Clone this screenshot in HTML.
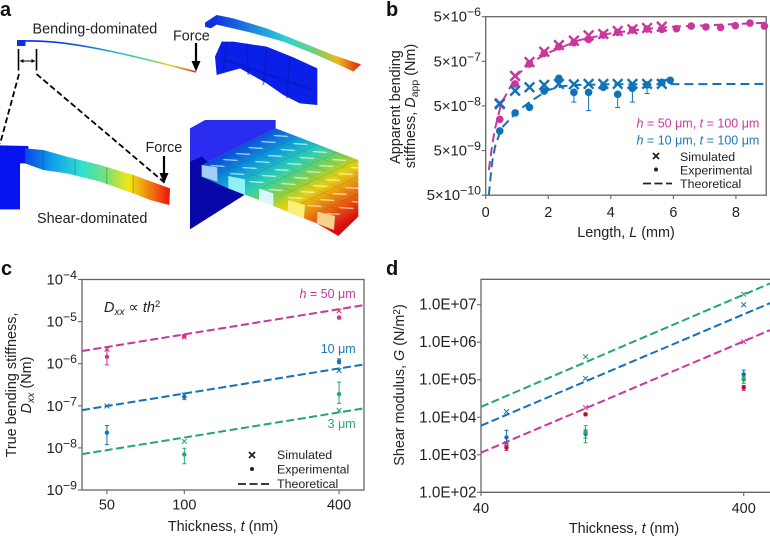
<!DOCTYPE html>
<html>
<head>
<meta charset="utf-8">
<style>
html,body{margin:0;padding:0;background:#fff;}
svg{display:block;font-family:"Liberation Sans",sans-serif;fill:#222;filter:blur(0.3px);}
text{font-size:14.4px;}
text.leg{font-size:12.4px;}
text.ser{font-size:12.5px;}
.letter{font-size:20px;font-weight:bold;fill:#111;}
.tick{stroke:#666;stroke-width:1.1;}
.frame{fill:none;stroke:#666;stroke-width:1.3;}
</style>
</head>
<body>
<svg id="fig" xmlns="http://www.w3.org/2000/svg" width="770" height="537" viewBox="0 0 770 537">
<defs>
<linearGradient id="rainbowThin" gradientUnits="userSpaceOnUse" x1="25" y1="0" x2="196" y2="0">
<stop offset="0" stop-color="#0a20e0"/><stop offset=".35" stop-color="#1060e0"/><stop offset=".55" stop-color="#20c0d0"/><stop offset=".72" stop-color="#60d080"/><stop offset=".85" stop-color="#e8d820"/><stop offset="1" stop-color="#e82010"/>
</linearGradient>
<linearGradient id="rainbowTop" gradientUnits="userSpaceOnUse" x1="640" y1="0" x2="1080" y2="0">
<stop offset="0" stop-color="#1030e0"/><stop offset=".3" stop-color="#2090e0"/><stop offset=".5" stop-color="#30d0d0"/><stop offset=".68" stop-color="#70d080"/><stop offset=".85" stop-color="#e8b820"/><stop offset="1" stop-color="#e02810"/>
</linearGradient>
<linearGradient id="rainbowShear" gradientUnits="userSpaceOnUse" x1="70" y1="0" x2="510" y2="0">
<stop offset="0" stop-color="#0a40e8"/><stop offset=".2" stop-color="#10a0e8"/><stop offset=".4" stop-color="#30e0d0"/><stop offset=".55" stop-color="#70e080"/><stop offset=".72" stop-color="#f0e810"/><stop offset=".88" stop-color="#f07010"/><stop offset="1" stop-color="#f01010"/>
</linearGradient>
<linearGradient id="rainbowPlate" gradientUnits="userSpaceOnUse" x1="700" y1="420" x2="897" y2="755">
<stop offset="0" stop-color="#0a30d8"/><stop offset=".25" stop-color="#10a0d8"/><stop offset=".4" stop-color="#30d0b0"/><stop offset=".55" stop-color="#90d040"/><stop offset=".65" stop-color="#e8d010"/><stop offset=".85" stop-color="#e86010"/><stop offset="1" stop-color="#d80c10"/>
</linearGradient>
<pattern id="cellPattern" patternUnits="userSpaceOnUse" width="20" height="20" patternTransform="matrix(2.9 1.2 -1.9 0.9 605 495)">
<path d="M6.5 13.5L13.5 6.5" stroke="#ffffff" stroke-opacity=".6" stroke-width="3" stroke-linecap="round" fill="none"/>
<path d="M0 20L20 20M20 0L20 20" stroke="#003050" stroke-opacity=".3" stroke-width="1" fill="none"/>
</pattern>
</defs>

<!-- PANEL A -->
<g id="panel-a">
<text class="letter" x="0" y="16">a</text>
<rect x="17" y="40" width="8.5" height="6" fill="#1030e0"/>
<path d="M25 41 C60 40 105 48 196 72" fill="none" stroke="url(#rainbowThin)" stroke-width="1.6"/>
<text x="32.5" y="33.5">Bending-dominated</text>
<text x="173" y="40.5">Force</text>
<path d="M196 43V63" stroke="#000" stroke-width="2.2"/>
<path d="M191.5 61L196 71.5L200.5 61Z" fill="#000"/>
<g stroke="#000" fill="none">
<path d="M18.5 49V70.5M36.5 49V70.5" stroke-width="1.6"/>
<path d="M20 61H35" stroke-width="1"/>
<path d="M20 61l3.5-2v4zM35 61l-3.5-2v4z" fill="#000" stroke="none"/>
</g>
<path d="M19 74L0 144" stroke="#000" stroke-width="1.8" stroke-dasharray="6 3" fill="none"/>
<path d="M36.5 74L165 183" stroke="#000" stroke-width="1.8" stroke-dasharray="6 3" fill="none"/>

<g transform="scale(0.33333)">
<polygon points="615,68 650,45 700,55 800,85 900,125 1000,165 1083,193 1060,215 1040,205 950,165 850,125 750,97 650,74 632,85 615,80" fill="url(#rainbowTop)"/>
<polygon points="645,170 665,125 700,125 800,140 880,172 952,205 952,315 900,310 850,285 800,250 720,205 650,225" fill="#0a20e8"/>
<path d="M680 130L670 215M740 130L745 225M800 150L790 255M870 175L860 295M660 175L940 270" stroke="#0a10b0" stroke-width="5" fill="none" opacity=".5"/>

<polygon points="0,436 85,438 85,490 60,490 60,628 0,628" fill="#0814f0"/>
<polygon points="75,445 130,450 200,470 300,495 400,525 510,565 508,615 450,600 400,580 300,545 200,520 130,510 75,490" fill="url(#rainbowShear)"/>
<path d="M130 450V510M225 478V525M320 502V552M400 525V580" stroke="#004060" stroke-opacity=".25" stroke-width="4" fill="none"/>

<polygon points="570,385 615,360 827,360 827,385 605,495 570,490" fill="#2a2cf0"/>
<polygon points="570,485 605,470 733,585 570,688" fill="#0808a8"/>
<polygon points="605,495 827,385 1075,480 1075,650 1015,708 950,670 862,635 777,600 685,565 605,530" fill="url(#rainbowPlate)"/>
<polygon points="605,495 827,385 1075,480 1075,625 1005,648 953,635 865,600 777,565 685,528" fill="url(#cellPattern)"/>
<polygon points="605,495 652,502 652,545 605,530" fill="#a0d0f8"/>
<polygon points="685,528 735,538 735,585 685,565" fill="#90f0f8"/>
<polygon points="777,565 820,580 820,618 777,600" fill="#d8f8ff"/>
<polygon points="865,600 915,615 912,655 862,635" fill="#f8f078"/>
<polygon points="953,635 1005,648 1002,690 950,670" fill="#f8d090"/>
</g>
<text x="145.5" y="152">Force</text>
<path d="M164 156V175" stroke="#000" stroke-width="2.2"/>
<path d="M159.5 173L164 183.5L168.5 173Z" fill="#000"/>
<text x="37" y="223">Shear-dominated</text>
</g>

<!-- PANEL B -->
<g id="panel-b">
<text class="letter" x="386" y="16">b</text>
<rect class="frame" x="485.7" y="16.7" width="280.5" height="178.5"/>
<g id="b-axes"></g>
<g id="b-marks"></g>
<text x="400" y="107" text-anchor="middle" transform="rotate(-90 400 107)">Apparent bending</text>
<text x="415" y="106" text-anchor="middle" transform="rotate(-90 415 106)">stiffness, <tspan font-style="italic">D</tspan><tspan dy="3" style="font-size:10.5px">app</tspan><tspan dy="-3"> (Nm)</tspan></text>
<text x="626" y="237" text-anchor="middle">Length, <tspan font-style="italic">L</tspan> (mm)</text>
<text class="ser" x="636.5" y="127.5" style="fill:#c9379d"><tspan font-style="italic">h</tspan> = 50 μm, <tspan font-style="italic">t</tspan> = 100 μm</text>
<text class="ser" x="636.5" y="144.5" style="fill:#1a78b8"><tspan font-style="italic">h</tspan> = 10 μm, <tspan font-style="italic">t</tspan> = 100 μm</text>
<g>
<path d="M653 153l6 6M659 153l-6 6" stroke="#222" stroke-width="1.8" fill="none"/>
<circle cx="656" cy="169.5" r="2" fill="#222"/>
<path d="M643 183.5H672" stroke="#222" stroke-width="1.8" stroke-dasharray="8 3.5"/>
<text class="leg" x="680" y="161">Simulated</text>
<text class="leg" x="680" y="174.5">Experimental</text>
<text class="leg" x="680" y="188">Theoretical</text>
</g>
</g>

<!-- PANEL C -->
<g id="panel-c">
<text class="letter" x="1" y="275">c</text>
<rect class="frame" x="82" y="279.5" width="282" height="210.5"/>
<g id="c-axes"></g>
<g id="c-marks"></g>
<text x="16" y="385" text-anchor="middle" transform="rotate(-90 16 385)">True bending stiffness,</text>
<text x="31" y="385" text-anchor="middle" transform="rotate(-90 31 385)"><tspan font-style="italic">D</tspan><tspan dy="3" style="font-size:10.5px;font-style:italic">xx</tspan><tspan dy="-3"> (Nm)</tspan></text>
<text x="223" y="531" text-anchor="middle">Thickness, <tspan font-style="italic">t</tspan> (nm)</text>
<text x="104" y="312" style="font-size:14.5px"><tspan font-style="italic">D</tspan><tspan dy="3" style="font-size:10px;font-style:italic">xx</tspan><tspan dy="-3"> ∝ </tspan><tspan font-style="italic">th</tspan><tspan dy="-5" style="font-size:9.5px">2</tspan></text>
<text class="ser" x="355.7" y="298" text-anchor="end" style="fill:#c9379d"><tspan font-style="italic">h</tspan> = 50 μm</text>
<text class="ser" x="355.7" y="353" text-anchor="end" style="fill:#1a78b8">10 μm</text>
<text class="ser" x="355.7" y="428" text-anchor="end" style="fill:#2aa86a">3 μm</text>
<g>
<path d="M249 452l6 6M255 452l-6 6" stroke="#222" stroke-width="1.8" fill="none"/>
<circle cx="252" cy="469" r="2" fill="#222"/>
<path d="M238 484H269" stroke="#222" stroke-width="1.8" stroke-dasharray="8 3.5"/>
<text class="leg" x="277" y="459">Simulated</text>
<text class="leg" x="277" y="473.5">Experimental</text>
<text class="leg" x="277" y="488">Theoretical</text>
</g>
</g>

<!-- PANEL D -->
<g id="panel-d">
<text class="letter" x="386" y="275">d</text>
<path class="frame" d="M770 279.3H481V492.3H770"/>
<g id="d-axes"></g>
<g id="d-marks"></g>
<text x="404" y="385" text-anchor="middle" transform="rotate(-90 404 385)">Shear modulus, <tspan font-style="italic">G</tspan> (N/m<tspan dy="-4" style="font-size:10px">2</tspan><tspan dy="4">)</tspan></text>
<text x="624" y="533" text-anchor="middle">Thickness, <tspan font-style="italic">t</tspan> (nm)</text>
</g>
</svg>

<script>
/* ---------- Panel b data ---------- */
var bTickX = [0, 2, 4, 6, 8];
var bTickExp = [-6, -7, -8, -9, -10];
var bLengths = [0.45, 0.94, 1.4, 1.87, 2.34, 2.82, 3.29, 3.76, 4.22, 4.69, 5.16, 5.63, 6.1, 6.57, 7.04, 7.51, 7.98, 8.45, 8.91];
var bMagentaExp = [2.51e-8, 1.56e-7, 4.36e-7, 7.55e-7, 1.06e-6, 1.31e-6, 1.55e-6, 1.94e-6, 2.23e-6, 2.51e-6, 2.65e-6, 2.6e-6, 2.69e-6, 3.09e-6, 2.94e-6, 2.88e-6, 3.14e-6, 3.61e-6, 3.09e-6];
var bMagentaSim = [5.74e-8, 2.35e-7, 4.83e-7, 8.2e-7, 1.16e-6, 1.45e-6, 1.91e-6, 2.05e-6, 2.39e-6, 2.6e-6, 2.79e-6, 2.99e-6];
var bBlueLengths = [0.45, 0.94, 1.4, 1.87, 2.34, 2.82, 3.29, 3.76, 4.22, 4.69, 5.16, 5.63, 5.9];
var bBlueExp = [1.38e-8, 3.48e-8, 4.67e-8, 1.08e-7, 2.08e-7, 1.01e-7, 1.01e-7, 1.31e-7, 9.1e-8, 1.24e-7, 1.48e-7, 1.69e-7, 1.88e-7];
var bBlueLow = [1.38e-8, 3.48e-8, 4.67e-8, 1.08e-7, 2.08e-7, 6.1e-8, 3.93e-8, 1.31e-7, 4.6e-8, 6.1e-8, 9.5e-8, 1.69e-7, 1.88e-7];
var bBlueSim = [5.5e-8, 1.1e-7, 1.31e-7, 1.48e-7, 1.56e-7, 1.53e-7, 1.56e-7, 1.56e-7, 1.56e-7, 1.56e-7, 1.56e-7, 1.56e-7];
var bMagentaTheoryL = [0.1, 0.2, 0.3, 0.5, 1, 1.5, 2, 3, 4, 5, 6, 7, 8, 9];
var bMagentaTheory = [1.84e-9, 6.15e-9, 1.58e-8, 5.74e-8, 2.47e-7, 4.92e-7, 7.8e-7, 1.5e-6, 2.12e-6, 2.6e-6, 3e-6, 3.2e-6, 3.43e-6, 3.67e-6];
var bBlueTheoryL = [0.1, 0.2, 0.3, 0.5, 1, 1.5, 2, 2.5, 3, 4, 5, 9];
var bBlueTheory = [5e-10, 2.6e-9, 6.15e-9, 1.58e-8, 3.73e-8, 6.8e-8, 1.14e-7, 1.4e-7, 1.48e-7, 1.53e-7, 1.53e-7, 1.56e-7];

/* ---------- Panel c data ---------- */
var cTickX = [50, 100, 400];
var cTickExp = [-4, -5, -6, -7, -8, -9];
var cLineT = [40, 500];
var cMagentaLine = [2.0e-6, 2.46e-5];
var cBlueLine = [7.9e-8, 9.6e-7];
var cGreenLine = [7.1e-9, 8.7e-8];
var cMagentaExp = [1.46e-6, 4.5e-6, 1.25e-5];
var cMagentaHigh = [2.1e-6, 4.9e-6, 1.35e-5];
var cMagentaLow = [9.4e-7, 4.1e-6, 1.15e-5];
var cMagentaSim = [2.2e-6, 4.3e-6, 1.8e-5];
var cBlueExp = [2.3e-8, 1.64e-7, 1.13e-6];
var cBlueHigh = [3.4e-8, 2.0e-7, 1.3e-6];
var cBlueLow = [1.2e-8, 1.4e-7, 1.0e-6];
var cBlueSim = [9.9e-8, 1.8e-7, 6.9e-7];
var cGreenT = [100, 400];
var cGreenExp = [7e-9, 1.9e-7];
var cGreenHigh = [9.8e-9, 3.66e-7];
var cGreenLow = [4.2e-9, 1.14e-7];
var cGreenSim = [1.43e-8, 7.8e-8];

/* ---------- Panel d data ---------- */
var dTickX = [40, 400];
var dTickY = [7, 6, 5, 4, 3, 2];
var dTickLabels = ["1.0E+07", "1.0E+06", "1.0E+05", "1.0E+04", "1.0E+03", "1.0E+02"];
var dLineT = [40, 504];
var dGreenLine = [1.9e4, 3.7e7];
var dBlueLine = [5.97e3, 1.1e7];
var dMagentaLine = [1.14e3, 2.1e6];
var dT = [50, 100, 400];
var dBlueSim = [1.41e4, 1.09e5, 1e7];
var dGreenSimT = [100, 400];
var dGreenSim = [4.1e5, 1.9e7];
var dMagentaSim = [2.0e3, 1.8e4, 1.03e6];
var dBlueExp = [2.9e3, 3.6e3, 1.39e5];
var dBlueHigh = [4.5e3, 4.6e3, 1.8e5];
var dBlueLow = [2.0e3, 2.8e3, 1.1e5];
var dGreenExpT = [100, 400];
var dGreenExp = [4e3, 1e5];
var dGreenHigh = [6e3, 1.2e5];
var dGreenLow = [2.1e3, 8e4];
var dRedExp = [1.55e3, 1.2e4, 6.2e4];
var dRedHigh = [1.8e3, 1.3e4, 7e4];
var dRedLow = [1.3e3, 1.1e4, 5.2e4];

var MAGENTA = "#c9379d", BLUE = "#1272b8", GREEN = "#22a868", RED = "#b5121b", PINKRED = "#e0305a";
var NS = "http://www.w3.org/2000/svg";

function shape(parent, tag, attrs) {
  var el = document.createElementNS(NS, tag);
  for (var k in attrs) el.setAttribute(k, attrs[k]);
  parent.appendChild(el);
  return el;
}
function logScale(d0, d1, r0, r1) {
  var a = Math.log10(d0), b = Math.log10(d1);
  return function (v) { return r0 + (Math.log10(v) - a) / (b - a) * (r1 - r0); };
}
function linScale(d0, d1, r0, r1) {
  return function (v) { return r0 + (v - d0) / (d1 - d0) * (r1 - r0); };
}
function drawLine(parent, xs, ys, sx, sy, color, width, dash, name) {
  var pts = [];
  for (var i = 0; i < xs.length; i++) pts.push(sx(xs[i]).toFixed(2) + "," + sy(ys[i]).toFixed(2));
  var el = shape(parent, "polyline", {points: pts.join(" "), fill: "none", stroke: color, "stroke-width": width, "stroke-dasharray": dash});
  
  
}
function drawDots(parent, xs, ys, sx, sy, color, r, name) {
  for (var i = 0; i < ys.length; i++) {
    var el = shape(parent, "circle", {cx: sx(xs[i]), cy: sy(ys[i]), r: r, fill: color});
    
    
  }
}
function drawCrosses(parent, xs, ys, sx, sy, color, s, w, name) {
  for (var i = 0; i < ys.length; i++) {
    var x = sx(xs[i]), y = sy(ys[i]);
    var d = "M" + (x - s) + " " + (y - s) + "L" + (x + s) + " " + (y + s) + "M" + (x + s) + " " + (y - s) + "L" + (x - s) + " " + (y + s);
    var el = shape(parent, "path", {d: d, fill: "none", stroke: color, "stroke-width": w});
    
    
  }
}
function drawErrors(parent, xs, lo, hi, sx, sy, color, cap, name) {
  for (var i = 0; i < xs.length; i++) {
    var x = sx(xs[i]), a = sy(lo[i]), b = sy(hi[i]);
    var d = "M" + x + " " + a + "V" + b + "M" + (x - cap) + " " + a + "H" + (x + cap) + "M" + (x - cap) + " " + b + "H" + (x + cap);
    var el = shape(parent, "path", {d: d, fill: "none", stroke: color, "stroke-width": 1});
    
    
  }
}
function drawTick(parent, x1, y1, x2, y2, name) {
  var el = shape(parent, "line", {x1: x1, y1: y1, x2: x2, y2: y2, "class": "tick"});
  
  
}
function drawLabel(parent, x, y, anchor, txt, size, name) {
  var el = shape(parent, "text", {x: x, y: y, "text-anchor": anchor, style: "font-size:" + size + "px"});
  el.textContent = txt;
  
  
  return el;
}
function drawPowerLabel(parent, x, y, prefix, exp, name) {
  var el = shape(parent, "text", {x: x, y: y, "text-anchor": "end", style: "font-size:14.8px"});
  var a = shape(el, "tspan", {});
  a.textContent = prefix;
  var b = shape(el, "tspan", {dy: -5.5, style: "font-size:12.3px"});
  b.textContent = "\u2212" + Math.abs(exp);
  
  
}

/* Panel b */
(function () {
  var sx = linScale(0, 9, 485.7, 767.2), sy = logScale(5e-10, 5e-6, 195.2, 16.7);
  var ax = document.getElementById("b-axes"), m = document.getElementById("b-marks");
  bTickX.forEach(function (v) {
    drawTick(ax, sx(v), 195.2, sx(v), 199, "x-tick");
    drawLabel(ax, sx(v), 217, "middle", String(v), 14.5, "x-tick-label");
  });
  bTickExp.forEach(function (e) {
    var y = sy(5 * Math.pow(10, e));
    drawTick(ax, 481.7, y, 485.7, y, "y-tick");
    drawPowerLabel(ax, 481, y + 5, "5\u00d710", e, "y-tick-label");
  });
  drawLine(m, bMagentaTheoryL, bMagentaTheory, sx, sy, MAGENTA, 2, "9 5", "magenta-theory-line");
  drawLine(m, bBlueTheoryL, bBlueTheory, sx, sy, BLUE, 2, "9 5", "blue-theory-line");
  drawErrors(m, bBlueLengths, bBlueLow, bBlueExp, sx, sy, BLUE, 2.5, "blue-error-bar");
  drawDots(m, bLengths, bMagentaExp, sx, sy, MAGENTA, 3.8, "magenta-experimental-point");
  drawCrosses(m, bLengths, bMagentaSim, sx, sy, MAGENTA, 4.8, 2.4, "magenta-simulated-point");
  drawDots(m, bBlueLengths, bBlueExp, sx, sy, BLUE, 3.8, "blue-experimental-point");
  drawCrosses(m, bLengths, bBlueSim, sx, sy, BLUE, 4.8, 2.4, "blue-simulated-point");
})();

/* Panel c */
(function () {
  var sx = logScale(40, 500, 82, 364), sy = logScale(1e-9, 1e-4, 490, 279.5);
  var ax = document.getElementById("c-axes"), m = document.getElementById("c-marks");
  cTickX.forEach(function (v) {
    drawTick(ax, sx(v), 490, sx(v), 494, "x-tick");
    drawLabel(ax, sx(v), 509.5, "middle", String(v), 14.5, "x-tick-label");
  });
  cTickExp.forEach(function (e) {
    var y = sy(Math.pow(10, e));
    drawTick(ax, 78, y, 82, y, "y-tick");
    drawPowerLabel(ax, 77, y + 5, "10", e, "y-tick-label");
  });
  drawLine(m, cLineT, cMagentaLine, sx, sy, MAGENTA, 2, "8 3.5", "h50-theory-line");
  drawLine(m, cLineT, cBlueLine, sx, sy, BLUE, 2, "8 3.5", "h10-theory-line");
  drawLine(m, cLineT, cGreenLine, sx, sy, GREEN, 2, "8 3.5", "h3-theory-line");
  drawErrors(m, cTickX, cMagentaLow, cMagentaHigh, sx, sy, MAGENTA, 2, "h50-error-bar");
  drawDots(m, cTickX, cMagentaExp, sx, sy, MAGENTA, 2.2, "h50-experimental-point");
  drawCrosses(m, cTickX, cMagentaSim, sx, sy, PINKRED, 2.4, 1, "h50-simulated-point");
  drawErrors(m, cTickX, cBlueLow, cBlueHigh, sx, sy, BLUE, 2, "h10-error-bar");
  drawDots(m, cTickX, cBlueExp, sx, sy, BLUE, 2.2, "h10-experimental-point");
  drawCrosses(m, cTickX, cBlueSim, sx, sy, BLUE, 2.4, 1, "h10-simulated-point");
  drawErrors(m, cGreenT, cGreenLow, cGreenHigh, sx, sy, GREEN, 2, "h3-error-bar");
  drawDots(m, cGreenT, cGreenExp, sx, sy, GREEN, 2.2, "h3-experimental-point");
  drawCrosses(m, cGreenT, cGreenSim, sx, sy, GREEN, 2.4, 1, "h3-simulated-point");
})();

/* Panel d */
(function () {
  var sx = logScale(40, 400, 481, 743.7), sy = linScale(2, 7, 492.3, 304.7);
  var syv = function (v) { return sy(Math.log10(v)); };
  var ax = document.getElementById("d-axes"), m = document.getElementById("d-marks");
  dTickX.forEach(function (v) {
    drawTick(ax, sx(v), 492.3, sx(v), 496, "x-tick");
    drawLabel(ax, sx(v), 513, "middle", String(v), 14.5, "x-tick-label");
  });
  dTickY.forEach(function (e, i) {
    drawTick(ax, 477, sy(e), 481, sy(e), "y-tick");
    drawLabel(ax, 476.5, sy(e) + 5, "end", dTickLabels[i], 15.3, "y-tick-label");
  });
  drawLine(m, dLineT, dGreenLine, sx, syv, GREEN, 2, "8 3.5", "green-theory-line");
  drawLine(m, dLineT, dBlueLine, sx, syv, BLUE, 2, "8 3.5", "blue-theory-line");
  drawLine(m, dLineT, dMagentaLine, sx, syv, MAGENTA, 2, "8 3.5", "magenta-theory-line");
  drawCrosses(m, dT, dBlueSim, sx, syv, BLUE, 2.4, 1, "blue-simulated-point");
  drawCrosses(m, dGreenSimT, dGreenSim, sx, syv, GREEN, 2.4, 1, "green-simulated-point");
  drawCrosses(m, dT, dMagentaSim, sx, syv, MAGENTA, 2.4, 1, "magenta-simulated-point");
  drawErrors(m, dT, dBlueLow, dBlueHigh, sx, syv, BLUE, 2, "blue-error-bar");
  drawErrors(m, dGreenExpT, dGreenLow, dGreenHigh, sx, syv, GREEN, 2, "green-error-bar");
  drawErrors(m, dT, dRedLow, dRedHigh, sx, syv, MAGENTA, 2, "red-error-bar");
  drawDots(m, dT, dBlueExp, sx, syv, BLUE, 2.2, "blue-experimental-point");
  drawDots(m, dGreenExpT, dGreenExp, sx, syv, GREEN, 2.2, "green-experimental-point");
  drawDots(m, dT, dRedExp, sx, syv, RED, 2.2, "red-experimental-point");
})();
</script>
</body>
</html>
